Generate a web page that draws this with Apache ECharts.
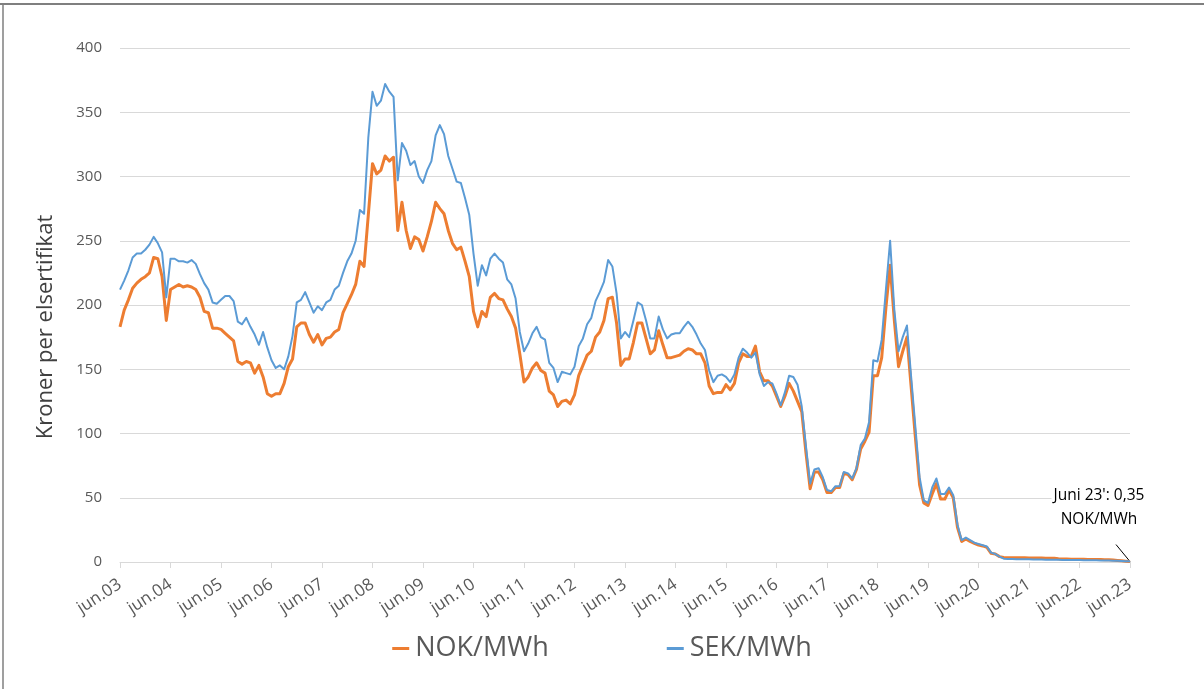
<!DOCTYPE html>
<html>
<head>
<meta charset="utf-8">
<script src="https://cdn.jsdelivr.net/npm/echarts@6/dist/echarts.min.js"></script>
<style>
  html, body { margin: 0; padding: 0; background: #fff; }
  #certChart { width: 1204px; height: 689px; }
</style>
</head>
<body>
<div id="certChart"></div>
<script>
// tick labels, one per June
var tickLabels = ['jun.03','jun.04','jun.05','jun.06','jun.07','jun.08','jun.09','jun.10','jun.11','jun.12',
  'jun.13','jun.14','jun.15','jun.16','jun.17','jun.18','jun.19','jun.20','jun.21','jun.22','jun.23'];

// monthly categories jun.03 .. jun.23
var categories = [];
for (var i = 0; i <= 240; i++) {
  var mon = (5 + i) % 12 + 1;
  var yr = 2003 + Math.floor((5 + i) / 12);
  categories.push(yr + '-' + (mon < 10 ? '0' + mon : mon));
}

// NOK/MWh
var nokValues = [
  183, 196, 204, 213, 217, 220, 222, 225, 237, 236,
  222, 188, 212, 214, 216, 214, 215, 214, 212, 206,
  195, 194, 182, 182, 181, 178, 175, 172, 156, 154,
  156, 155, 147, 153, 144, 131, 129, 131, 131, 139,
  152, 158, 183, 186, 186, 177, 171, 177, 169, 174,
  175, 179, 181, 194, 201, 208, 216, 234, 230, 270,
  310, 302, 305, 316, 312, 315, 258, 280, 258, 244,
  253, 251, 242, 253, 265, 280, 275, 271, 258, 248,
  243, 245, 234, 222, 195, 183, 195, 191, 206, 209,
  205, 204, 197, 191, 182, 162, 140, 144, 151, 155,
  149, 147, 133, 130, 121, 125, 126, 123, 130, 145,
  153, 161, 164, 175, 179, 188, 205, 206, 186, 153,
  158, 158, 171, 186, 186, 174, 162, 165, 180, 169,
  159, 159, 160, 161, 164, 166, 165, 162, 162, 155,
  137, 131, 132, 132, 138, 134, 139, 155, 162, 160,
  160, 168, 148, 141, 141, 137, 129, 121, 129, 139,
  133, 125, 117, 85, 57, 70, 70, 64, 54, 54,
  58, 58, 69, 68, 64, 72, 88, 94, 101, 145,
  145, 159, 198, 231, 188, 152, 164, 175, 136, 97,
  60, 46, 44, 53, 61, 49, 49, 56, 50, 27,
  16, 18, 16, 14.5, 13.2, 12.5, 11.4, 6.7, 6.2, 4.2,
  3.6, 3.4, 3.4, 3.3, 3.3, 3.3, 3.2, 3.2, 3.1, 3.1,
  3.0, 3.0, 3.0, 2.6, 2.4, 2.3, 2.2, 2.2, 2.1, 2.1,
  2.0, 2.0, 1.9, 1.9, 1.8, 1.7, 1.5, 1.2, 0.9, 0.6, 0.35
];

// SEK/MWh
var sekValues = [
  212, 219, 227, 237, 240, 240, 243, 247, 253, 248,
  241, 206, 236, 236, 234, 234, 233, 235, 232, 224,
  217, 212, 202, 201, 204, 207, 207, 203, 187, 185,
  190, 183, 177, 169, 179, 167, 157, 151, 153, 150,
  160, 176, 202, 204, 210, 202, 194, 199, 196, 202,
  204, 212, 215, 225, 234, 240, 250, 274, 271, 330,
  366, 355, 359, 372, 366, 362, 297, 326, 320, 309,
  312, 300, 295, 305, 312, 332, 340, 333, 316, 306,
  296, 295, 283, 270, 240, 215, 231, 223, 236, 240,
  236, 233, 220, 216, 205, 179, 164, 170, 178, 183,
  175, 173, 155, 151, 140, 148, 147, 146, 152, 168,
  174, 185, 190, 203, 210, 218, 235, 230, 209, 174,
  179, 175, 188, 202, 200, 188, 174, 174, 191, 181,
  174, 177, 178, 178, 183, 187, 183, 177, 170, 165,
  149, 140, 145, 146, 144, 140, 146, 159, 166, 163,
  159, 163, 146, 137, 140, 139, 131, 122, 132, 145,
  144, 138, 121, 90, 61, 72, 73, 66, 56, 55,
  59, 59, 70, 69, 65, 73, 91, 96, 109, 157,
  156, 173, 212, 250, 196, 164, 175, 184, 144, 105,
  66, 48, 46, 58, 65, 53, 53, 58, 52, 29,
  17, 19, 17, 15, 14, 13, 12, 7.3, 6.2, 4.2,
  2.6, 2.4, 2.3, 2.2, 2.2, 2.1, 2.1, 2.0, 2.0, 1.9,
  1.8, 1.8, 1.7, 1.7, 1.6, 1.6, 1.5, 1.5, 1.5, 1.4,
  1.4, 1.3, 1.3, 1.2, 1.2, 1.1, 1.0, 0.9, 0.8, 0.6, 0.5
];

var noteLines = ["Juni 23': 0,35", 'NOK/MWh'];
var textGrey = '#595959';
var fontFam = '"Open Sans", "Noto Sans", sans-serif';

var myChart = echarts.init(document.getElementById('certChart'));
myChart.setOption({
  animation: false,
  grid: {
    left: 120,
    right: 74,
    top: 48,
    bottom: 127
  },
  legend: {
    bottom: 22,
    left: 'center',
    itemGap: 118,
    itemWidth: 17,
    itemHeight: 3,
    icon: 'rect',
    textStyle: { color: textGrey, fontSize: 27, fontFamily: fontFam, padding: [0, 0, 0, 1] },
    data: ['NOK/MWh', 'SEK/MWh']
  },
  xAxis: {
    type: 'category',
    boundaryGap: false,
    data: categories,
    axisLine: { lineStyle: { color: '#d9d9d9', width: 1 } },
    axisTick: {
      interval: 11,
      length: 6,
      lineStyle: { color: '#d9d9d9' }
    },
    axisLabel: {
      interval: 11,
      rotate: 33,
      margin: 21,
      color: textGrey,
      fontSize: 17,
      fontFamily: fontFam,
      formatter: function (val, idx) {
        return tickLabels[Math.round(idx / 12)];
      }
    }
  },
  yAxis: {
    type: 'value',
    min: 0,
    max: 400,
    interval: 50,
    name: 'Kroner per elsertifikat',
    nameLocation: 'middle',
    nameGap: 63,
    nameTextStyle: { color: '#404040', fontSize: 22, fontFamily: fontFam, padding: [0, 44, 0, 0] },
    axisLine: { show: false },
    axisTick: { show: false },
    axisLabel: { color: textGrey, fontSize: 15, fontFamily: fontFam, margin: 18 },
    splitLine: { lineStyle: { color: '#d9d9d9', width: 1 } }
  },
  series: [
    {
      name: 'NOK/MWh',
      type: 'line',
      data: nokValues,
      symbol: 'none',
      color: '#ED7D31',
      lineStyle: { width: 3, color: '#ED7D31', join: 'round' }
    },
    {
      name: 'SEK/MWh',
      type: 'line',
      data: sekValues,
      symbol: 'none',
      color: '#5B9BD5',
      lineStyle: { width: 2, color: '#5B9BD5', join: 'round' }
    }
  ]
});

// note for the last value, placed from the data point
var last = nokValues.length - 1;
var pt = myChart.convertToPixel({ gridIndex: 0 }, [last, nokValues[last]]);
myChart.setOption({
  graphic: [
    { type: 'line', shape: { x1: 0, y1: 4, x2: 1204, y2: 4 }, style: { stroke: '#7f7f7f', lineWidth: 2 } },
    { type: 'line', shape: { x1: 3, y1: 4, x2: 3, y2: 689 }, style: { stroke: '#7f7f7f', lineWidth: 1.5 } },
    { type: 'line', shape: { x1: pt[0] - 14, y1: pt[1] - 17, x2: pt[0], y2: pt[1] }, style: { stroke: '#000', lineWidth: 1 } },
    {
      type: 'text',
      x: pt[0] - 31,
      y: pt[1] - 78,
      style: {
        text: noteLines.join('\n'),
        align: 'center',
        fill: '#000',
        fontSize: 15.5,
        lineHeight: 24,
        fontFamily: fontFam,
        backgroundColor: '#fff',
        padding: [0, 2, 0, 2]
      }
    }
  ]
});
</script>
</body>
</html>
